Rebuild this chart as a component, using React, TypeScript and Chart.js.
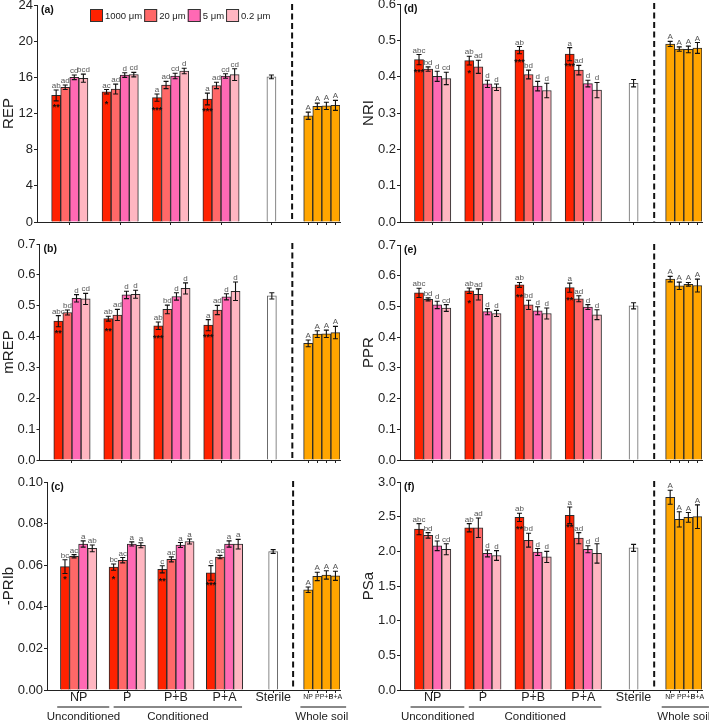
import React, { useEffect, useRef } from "react";
import { Chart, registerables } from "chart.js";

Chart.register(...registerables);

const FONT = "'Liberation Sans', Arial, Helvetica, sans-serif";

// ---------- categories / labels ----------
const sizeLabels = ["1000 μm", "20 μm", "5 μm", "0.2 μm"];
const sizeColors = ["#FF2200", "#FF6868", "#FF69B4", "#FFB6C1"];
const treatmentLabels = ["NP", "P", "P+B", "P+A"];
const sterileLabel = "Sterile";
const wholeSoilLabels = ["NP", "P", "P+B", "P+A"];
const groupLabels = ["Unconditioned", "Conditioned", "Whole soil"];
const wholeSoilLetter = "A";

// values are ordered NP(1000,20,5,0.2), P(...), P+B(...), P+A(...)
// ---------- (a) REP ----------
const repMean = [14.0, 14.9, 16.0, 15.9, 14.4, 14.7, 16.25, 16.3, 13.75, 15.15, 16.15, 16.7, 13.6, 15.1, 16.15, 16.3];
const repErr = [0.6, 0.25, 0.25, 0.45, 0.25, 0.55, 0.25, 0.25, 0.4, 0.4, 0.3, 0.3, 0.65, 0.35, 0.25, 0.65];
const repLetters = ["ab", "ad", "cd", "bcd", "ac", "ad", "d", "cd", "a", "ad", "cd", "d", "a", "ad", "cd", "cd"];
const repStars = ["**", "*", "***", "***"];
const repSterile = [16.05, 0.2];
const repWhole = [11.75, 12.8, 12.85, 12.9];
const repWholeErr = [0.4, 0.35, 0.4, 0.55];

// ---------- (b) mREP ----------
const mrepMean = [0.45, 0.478, 0.524, 0.522, 0.458, 0.47, 0.535, 0.537, 0.435, 0.488, 0.53, 0.556, 0.437, 0.486, 0.529, 0.547];
const mrepErr = [0.018, 0.008, 0.012, 0.018, 0.008, 0.018, 0.012, 0.013, 0.012, 0.014, 0.012, 0.018, 0.018, 0.015, 0.01, 0.03];
const mrepLetters = ["abc", "bd", "d", "cd", "ab", "ad", "d", "d", "ab", "bd", "d", "d", "a", "ad", "d", "d"];
const mrepStars = ["**", "**", "***", "***"];
const mrepSterile = [0.532, 0.01];
const mrepWhole = [0.378, 0.408, 0.409, 0.413];
const mrepWholeErr = [0.011, 0.011, 0.012, 0.02];

// ---------- (c) -PRIb ----------
const priMean = [0.0593, 0.0643, 0.0702, 0.0681, 0.0591, 0.0624, 0.0702, 0.0696, 0.058, 0.0628, 0.0697, 0.0714, 0.0563, 0.0639, 0.0702, 0.0701];
const priErr = [0.0033, 0.0008, 0.0015, 0.0016, 0.0015, 0.0013, 0.001, 0.0012, 0.0017, 0.0012, 0.0012, 0.0012, 0.0035, 0.0008, 0.0015, 0.0023];
const priLetters = ["bc", "ac", "a", "ab", "bc", "ac", "a", "a", "c", "ac", "a", "a", "c", "ac", "a", "a"];
const priStars = ["*", "*", "**", "***"];
const priSterile = [0.0666, 0.0009];
const priWhole = [0.0482, 0.0546, 0.0553, 0.0549];
const priWholeErr = [0.0013, 0.002, 0.002, 0.0022];

// ---------- (d) NRI ----------
const nriMean = [0.447, 0.421, 0.401, 0.395, 0.444, 0.427, 0.38, 0.371, 0.473, 0.406, 0.374, 0.362, 0.462, 0.418, 0.381, 0.363];
const nriErr = [0.014, 0.006, 0.014, 0.017, 0.012, 0.018, 0.01, 0.009, 0.01, 0.012, 0.013, 0.02, 0.018, 0.013, 0.009, 0.021];
const nriLetters = ["abc", "bd", "d", "cd", "ab", "ad", "d", "d", "ab", "bd", "d", "d", "a", "ad", "d", "d"];
const nriStars = ["***", "*", "***", "***"];
const nriSterile = [0.382, 0.01];
const nriWhole = [0.49, 0.476, 0.475, 0.479];
const nriWholeErr = [0.007, 0.006, 0.009, 0.015];

// ---------- (e) PPR ----------
const pprMean = [0.544, 0.523, 0.505, 0.495, 0.551, 0.539, 0.483, 0.477, 0.57, 0.505, 0.486, 0.477, 0.561, 0.525, 0.498, 0.473];
const pprErr = [0.015, 0.005, 0.012, 0.011, 0.009, 0.018, 0.01, 0.01, 0.008, 0.015, 0.013, 0.018, 0.015, 0.01, 0.008, 0.016];
const pprLetters = ["abc", "bd", "d", "cd", "ab", "ad", "d", "d", "ab", "bd", "d", "d", "a", "ad", "d", "d"];
const pprStars = ["", "*", "**", "**"];
const pprSterile = [0.502, 0.01];
const pprWhole = [0.589, 0.567, 0.572, 0.568];
const pprWholeErr = [0.009, 0.012, 0.006, 0.021];

// ---------- (f) PSa ----------
const psaMean = [2.32, 2.23, 2.08, 2.03, 2.34, 2.34, 1.97, 1.94, 2.49, 2.16, 1.99, 1.92, 2.52, 2.19, 2.03, 1.97];
const psaErr = [0.08, 0.04, 0.07, 0.08, 0.06, 0.14, 0.05, 0.07, 0.06, 0.1, 0.05, 0.08, 0.12, 0.08, 0.05, 0.14];
const psaLetters = ["abc", "bd", "d", "cd", "ab", "ad", "d", "d", "ab", "bd", "d", "d", "a", "ad", "d", "d"];
const psaStars = ["", "", "**", "**"];
const psaSterile = [2.05, 0.05];
const psaWhole = [2.78, 2.46, 2.49, 2.5];
const psaWholeErr = [0.1, 0.11, 0.07, 0.17];

// ---------- layout constants (x in group units) ----------
const X_MIN = 0.35;
const STERILE_X = 5;
const WHOLE_X = 6;
const DIVIDER_X = 5.41;
const groupLineSpans = [[0.56, 1.63], [1.72, 4.36], [5.56, 6.5]];
const groupTextX = [1.1, 3.04, 6.0];

const columns = [
  { left: 0, width: 350, padRight: 10, titleX: 9, tickSize: 13 },
  { left: 350, width: 359, padRight: 7, titleX: 19, tickSize: 13 },
];

const panels = [
  { id: "(a)", title: "REP", col: 0, yAxisW: 37, barW: 0.18, plotTop: 5, plotBottom: 222, yMax: 24, step: 4, dec: 0, bottom: false, legend: true,
    mean: repMean, err: repErr, letters: repLetters, stars: repStars, sterile: repSterile, whole: repWhole, wholeErr: repWholeErr },
  { id: "(b)", title: "mREP", col: 0, yAxisW: 39.5, barW: 0.182, plotTop: 244, plotBottom: 460, yMax: 0.7, step: 0.1, dec: 1, bottom: false, legend: false,
    mean: mrepMean, err: mrepErr, letters: mrepLetters, stars: mrepStars, sterile: mrepSterile, whole: mrepWhole, wholeErr: mrepWholeErr },
  { id: "(c)", title: "-PRIb", col: 0, yAxisW: 47, barW: 0.187, plotTop: 482, plotBottom: 690, yMax: 0.1, step: 0.02, dec: 2, bottom: true, legend: false,
    mean: priMean, err: priErr, letters: priLetters, stars: priStars, sterile: priSterile, whole: priWhole, wholeErr: priWholeErr },
  { id: "(d)", title: "NRI", col: 1, yAxisW: 50, barW: 0.181, plotTop: 4, plotBottom: 222, yMax: 0.6, step: 0.1, dec: 1, bottom: false, legend: false,
    mean: nriMean, err: nriErr, letters: nriLetters, stars: nriStars, sterile: nriSterile, whole: nriWhole, wholeErr: nriWholeErr },
  { id: "(e)", title: "PPR", col: 1, yAxisW: 50, barW: 0.181, plotTop: 245, plotBottom: 460, yMax: 0.7, step: 0.1, dec: 1, bottom: false, legend: false,
    mean: pprMean, err: pprErr, letters: pprLetters, stars: pprStars, sterile: pprSterile, whole: pprWhole, wholeErr: pprWholeErr },
  { id: "(f)", title: "PSa", col: 1, yAxisW: 50, barW: 0.181, plotTop: 482, plotBottom: 690, yMax: 3, step: 0.5, dec: 1, bottom: true, legend: false,
    mean: psaMean, err: psaErr, letters: psaLetters, stars: psaStars, sterile: psaSterile, whole: psaWhole, wholeErr: psaWholeErr },
];

function buildBars(p: any) {
  const bars: any[] = [];
  const w = p.barW;
  treatmentLabels.forEach((_, t) => {
    sizeLabels.forEach((__, s) => {
      const i = t * 4 + s;
      bars.push({
        x: t + 1 + (s - 1.5) * w,
        y: p.mean[i],
        err: p.err[i],
        letter: p.letters[i],
        stars: s === 0 ? p.stars[t] : "",
        color: sizeColors[s],
        border: "#2a2a2a",
      });
    });
  });
  bars.push({ x: STERILE_X, y: p.sterile[0], err: p.sterile[1], letter: "", stars: "", color: "#FFFFFF", border: "#666666" });
  wholeSoilLabels.forEach((_, k) => {
    bars.push({
      x: WHOLE_X + (k - 1.5) * w,
      y: p.whole[k],
      err: p.wholeErr[k],
      letter: wholeSoilLetter,
      stars: "",
      color: "#FFA500",
      border: "#2a2a2a",
    });
  });
  return bars;
}

const xTickLabels = [...treatmentLabels, sterileLabel, ...wholeSoilLabels];

function makeDeco(p: any, bars: any[], col: any) {
  return {
    id: "deco",
    afterDatasetsDraw(chart: any) {
      const ctx = chart.ctx;
      const ys = chart.scales.y;
      const xs = chart.scales.x;
      const meta = chart.getDatasetMeta(0);
      ctx.save();
      bars.forEach((b, i) => {
        const el = meta.data[i];
        if (!el) return;
        const x = el.x;
        const yHi = ys.getPixelForValue(b.y + b.err);
        const yLo = ys.getPixelForValue(b.y - b.err);
        ctx.strokeStyle = "#111";
        ctx.lineWidth = 1.1;
        ctx.setLineDash([]);
        ctx.beginPath();
        ctx.moveTo(x, yHi);
        ctx.lineTo(x, yLo);
        ctx.moveTo(x - 2.5, yHi);
        ctx.lineTo(x + 2.5, yHi);
        ctx.moveTo(x - 2.5, yLo);
        ctx.lineTo(x + 2.5, yLo);
        ctx.stroke();
        if (b.letter) {
          ctx.fillStyle = "#555";
          ctx.font = `8px ${FONT}`;
          ctx.textAlign = "center";
          ctx.textBaseline = "alphabetic";
          ctx.fillText(b.letter, x, yHi - 2);
        }
        if (b.stars) {
          ctx.fillStyle = "#111";
          ctx.font = `bold 9px ${FONT}`;
          ctx.textAlign = "center";
          ctx.textBaseline = "alphabetic";
          ctx.fillText(b.stars, x, el.y + 15);
        }
      });
      const dx = xs.getPixelForValue(DIVIDER_X);
      ctx.strokeStyle = "#111";
      ctx.lineWidth = 2;
      ctx.setLineDash([6, 3.5]);
      ctx.beginPath();
      ctx.moveTo(dx, chart.chartArea.top - 1);
      ctx.lineTo(dx, chart.chartArea.bottom);
      ctx.stroke();
      ctx.restore();
    },
    afterDraw(chart: any) {
      const ctx = chart.ctx;
      const area = chart.chartArea;
      const xs = chart.scales.x;
      ctx.save();
      // y title
      ctx.fillStyle = "#222";
      ctx.font = `15px ${FONT}`;
      ctx.textAlign = "center";
      ctx.textBaseline = "middle";
      ctx.translate(col.titleX, (area.top + area.bottom) / 2);
      ctx.rotate(-Math.PI / 2);
      ctx.fillText(p.title, 0, 0);
      ctx.setTransform(1, 0, 0, 1, 0, 0);
      // panel label
      ctx.font = `bold 10.5px ${FONT}`;
      ctx.textAlign = "left";
      ctx.textBaseline = "middle";
      ctx.fillStyle = "#111";
      ctx.fillText(p.id, area.left + 4, area.top + 5);
      // legend
      if (p.legend) {
        ctx.font = `9.5px ${FONT}`;
        let bx = area.left + 53;
        const by = area.top + 4;
        sizeLabels.forEach((lab, s) => {
          ctx.fillStyle = sizeColors[s];
          ctx.fillRect(bx, by, 13, 13);
          ctx.strokeStyle = "#333";
          ctx.lineWidth = 1;
          ctx.strokeRect(bx + 0.5, by + 0.5, 12, 12);
          ctx.fillStyle = "#222";
          ctx.textAlign = "left";
          ctx.textBaseline = "middle";
          ctx.fillText(lab, bx + 15, by + 7);
          bx += 15 + ctx.measureText(lab).width + 2;
        });
      }
      // group labels
      if (p.bottom) {
        groupLabels.forEach((lab, g) => {
          const x0 = xs.getPixelForValue(groupLineSpans[g][0]);
          const x1 = xs.getPixelForValue(groupLineSpans[g][1]);
          ctx.strokeStyle = "#888";
          ctx.lineWidth = 2;
          ctx.beginPath();
          ctx.moveTo(x0, area.bottom + 17);
          ctx.lineTo(x1, area.bottom + 17);
          ctx.stroke();
          ctx.fillStyle = "#222";
          ctx.font = `11.5px ${FONT}`;
          ctx.textAlign = "center";
          ctx.textBaseline = "middle";
          ctx.fillText(lab, xs.getPixelForValue(groupTextX[g]), area.bottom + 26.5);
        });
      }
      ctx.restore();
    },
  };
}

function Panel({ p }: { p: any }) {
  const ref = useRef<HTMLCanvasElement | null>(null);
  const col = columns[p.col];
  const top = p.plotTop - 20;
  const xh = p.bottom ? 32 : 14;
  const height = p.plotBottom - top + xh;

  useEffect(() => {
    if (!ref.current) return;
    const bars = buildBars(p);
    const xMax = WHOLE_X + 2 * p.barW;
    const xTickValues = [1, 2, 3, 4, STERILE_X, ...wholeSoilLabels.map((_, k) => WHOLE_X + (k - 1.5) * p.barW)];
    const chart = new Chart(ref.current, {
      type: "bar",
      data: {
        datasets: [
          {
            data: bars.map((b) => ({ x: b.x, y: b.y })),
            backgroundColor: bars.map((b) => b.color),
            borderColor: bars.map((b) => b.border),
            borderWidth: 1,
            categoryPercentage: 1,
            barPercentage: 1,
          } as any,
        ],
      },
      options: {
        responsive: false,
        animation: false,
        devicePixelRatio: 1,
        events: [],
        layout: { padding: { left: 0, right: col.padRight, top: 20, bottom: 0 } },
        plugins: { legend: { display: false }, tooltip: { enabled: false } },
        scales: {
          x: {
            type: "linear",
            min: X_MIN,
            max: xMax,
            offset: false,
            bounds: "data",
            afterBuildTicks: (s: any) => {
              s.ticks = xTickValues.map((v) => ({ value: v }));
            },
            afterFit: (s: any) => {
              s.height = xh;
            },
            grid: { display: true, drawOnChartArea: false, drawTicks: true, tickLength: 3, color: "#222", offset: false },
            border: { display: true, color: "#222", width: 1 },
            ticks: {
              display: p.bottom,
              autoSkip: false,
              maxRotation: 0,
              minRotation: 0,
              padding: 0,
              color: "#222",
              callback: (_v: any, i: number) => xTickLabels[i],
              font: (c: any) =>
                c.index >= 5
                  ? { family: FONT, size: 7, lineHeight: "9px" }
                  : { family: FONT, size: 12.5, lineHeight: "9px" },
            },
          } as any,
          y: {
            type: "linear",
            min: 0,
            max: p.yMax,
            afterFit: (s: any) => {
              s.width = p.yAxisW;
            },
            grid: { display: true, drawOnChartArea: false, drawTicks: true, tickLength: 3, color: "#222" },
            border: { display: true, color: "#222", width: 1 },
            ticks: {
              stepSize: p.step,
              padding: 1,
              color: "#222",
              font: { family: FONT, size: col.tickSize },
              callback: (v: any) => Number(v).toFixed(p.dec),
            },
          } as any,
        },
      },
      plugins: [makeDeco(p, bars, col) as any],
    });
    return () => chart.destroy();
  }, []);

  return (
    <canvas
      ref={ref}
      width={col.width}
      height={height}
      style={{ position: "absolute", left: col.left, top, width: col.width, height }}
    />
  );
}

export default function App() {
  return (
    <div style={{ position: "absolute", left: 0, top: 0, width: 709, height: 722, overflow: "hidden", background: "#fff" }}>
      {panels.map((p) => (
        <Panel key={p.id} p={p} />
      ))}
    </div>
  );
}
